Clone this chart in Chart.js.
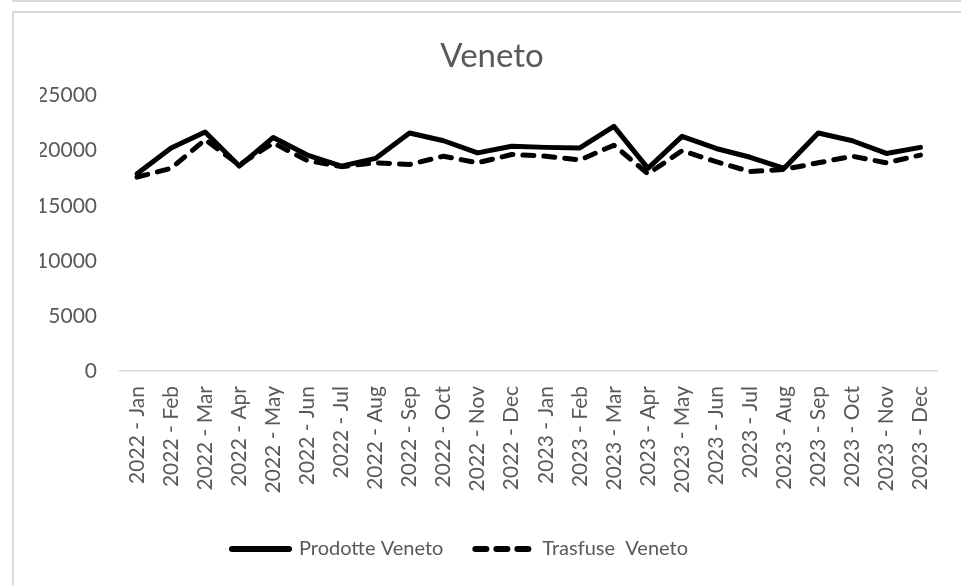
<!DOCTYPE html>
<html>
<head>
<meta charset="utf-8">
<script src="https://cdn.jsdelivr.net/npm/chart.js@4"></script>
<style>
  html, body { margin: 0; padding: 0; background: #fff; overflow: hidden; width: 961px; height: 585px; }
  .frame { position: absolute; border: 2px solid #d9d9d9; box-sizing: border-box; }
  #topbox { left: 12px; top: -30px; width: 1100px; height: 32px; }
  #mainbox { left: 12px; top: 11px; width: 1100px; height: 1000px; }
  #c { position: absolute; left: 0; top: 0; z-index: 2; }
</style>
</head>
<body>
<div class="frame" id="topbox"></div>
<div class="frame" id="mainbox"></div>
<canvas id="c" width="961" height="585"></canvas>
<script>
const titleText = 'Veneto';
const categories = [
  '2022 - Jan','2022 - Feb','2022 - Mar','2022 - Apr','2022 - May','2022 - Jun',
  '2022 - Jul','2022 - Aug','2022 - Sep','2022 - Oct','2022 - Nov','2022 - Dec',
  '2023 - Jan','2023 - Feb','2023 - Mar','2023 - Apr','2023 - May','2023 - Jun',
  '2023 - Jul','2023 - Aug','2023 - Sep','2023 - Oct','2023 - Nov','2023 - Dec'
];
const seriesNames = ['Prodotte Veneto', 'Trasfuse  Veneto'];
const prodotte = [17900, 20250, 21700, 18600, 21200, 19600, 18600, 19300, 21600, 20900, 19800, 20400,
                  20300, 20250, 22200, 18400, 21300, 20200, 19400, 18400, 21600, 20900, 19750, 20300];
const trasfuse = [17600, 18400, 21000, 18700, 20700, 19100, 18550, 18900, 18750, 19500, 18900, 19650,
                  19500, 19150, 20500, 17900, 20000, 19000, 18100, 18300, 18900, 19500, 18900, 19600];
const yTicks = [0, 5000, 10000, 15000, 20000, 25000];

const textColor = '#595959';
Chart.defaults.font.family = 'Lato';
Chart.defaults.color = textColor;

const legendShift = {
  id: 'legendShift',
  afterLayout(chart) {
    const lg = chart.legend;
    if (lg) { lg.left -= 32; lg.right -= 32; }
  }
};

new Chart(document.getElementById('c'), {
  type: 'line',
  data: {
    labels: categories,
    datasets: [
      {
        label: seriesNames[0],
        data: prodotte,
        borderColor: '#000000',
        backgroundColor: '#000000',
        borderWidth: 5,
        borderCapStyle: 'round',
        borderJoinStyle: 'round',
        pointRadius: 0,
        tension: 0,
        order: 1
      },
      {
        label: seriesNames[1],
        data: trasfuse,
        borderColor: '#000000',
        backgroundColor: '#000000',
        borderWidth: 5,
        borderDash: [11, 10],
        borderCapStyle: 'round',
        borderJoinStyle: 'round',
        pointRadius: 0,
        tension: 0,
        order: 0
      }
    ]
  },
  options: {
    responsive: false,
    animation: false,
    events: [],
    layout: { padding: { left: 40, right: 17, top: 0, bottom: 16 } },
    plugins: {
      title: {
        display: true,
        text: titleText,
        color: textColor,
        font: { size: 33, weight: 'normal', lineHeight: 1.2 },
        padding: { top: 37, bottom: 19 }
      },
      legend: {
        display: true,
        position: 'bottom',
        labels: {
          usePointStyle: true,
          pointStyle: 'line',
          pointStyleWidth: 57,
          padding: 32,
          color: textColor,
          font: { size: 20 },
          sort: (a, b) => a.datasetIndex - b.datasetIndex,
          generateLabels(chart) {
            const items = Chart.defaults.plugins.legend.labels.generateLabels(chart);
            items.forEach(it => {
              const ds = chart.data.datasets[it.datasetIndex];
              it.lineDash = ds.borderDash ? [11, 10] : [];
              it.lineWidth = 6;
              it.lineCap = 'round';
              it.strokeStyle = ds.borderColor;
              it.pointStyle = 'line';
            });
            return items;
          }
        }
      },
      tooltip: { enabled: false }
    },
    scales: {
      x: {
        type: 'category',
        offset: true,
        grid: { display: false, drawTicks: false },
        border: { display: true, color: '#d9d9d9', width: 1.5 },
        ticks: {
          autoSkip: false,
          minRotation: 90,
          maxRotation: 90,
          padding: 15,
          color: textColor,
          font: { size: 21 }
        },
        afterFit(scale) { scale.height = 136; }
      },
      y: {
        min: 0,
        max: 25000,
        grid: { display: false, drawTicks: false },
        border: { display: false },
        afterBuildTicks(scale) { scale.ticks = yTicks.map(v => ({ value: v })); },
        ticks: {
          padding: 23,
          color: textColor,
          font: { size: 21 },
          callback: (v) => String(v)
        },
        afterFit(scale) { scale.width = 80; }
      }
    }
  },
  plugins: [legendShift]
});
</script>
</body>
</html>
